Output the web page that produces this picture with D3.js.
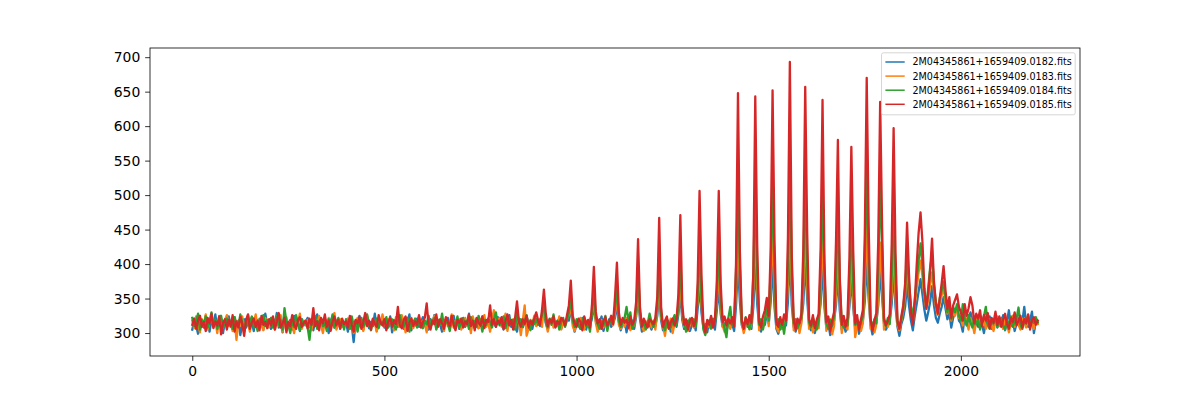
<!DOCTYPE html>
<html>
<head>
<meta charset="utf-8">
<script src="https://cdn.jsdelivr.net/npm/d3@7"></script>
<style>
  body { margin: 0; background: #fff; }
  text { font-family: "DejaVu Sans", sans-serif; }
</style>
</head>
<body>
<div id="chart"></div>
<script>
// flux every 5 pixels (index 0..2200)
const sampleStep = 5

const blueVals = [
  305,318,311,299,322,314,308,325,316,302,319,310,327,306,315,321,300,317,312,324,
  309,315,323,304,318,297,313,320,308,326,311,317,303,322,314,309,319,305,328,313,
  318,306,321,312,329,308,316,301,323,314,310,319,305,325,312,317,303,320,311,316,
  322,309,315,304,319,327,311,318,306,321,313,300,317,324,308,315,320,307,318,312,
  316,302,321,311,287,317,309,325,313,305,319,322,307,316,310,328,303,318,314,320,
  308,317,312,324,301,319,315,309,322,313,306,320,316,327,304,318,311,321,309,315,
  323,310,316,305,320,313,326,308,317,312,302,319,314,322,307,316,325,311,318,306,
  317,322,309,315,328,304,319,312,321,307,316,324,310,318,313,306,320,315,309,323,
  311,317,305,320,314,326,309,318,312,302,321,315,308,319,324,311,316,306,322,313,
  318,310,322,332,314,305,319,312,323,309,316,320,306,315,311,321,318,335,316,302,
  313,319,308,322,311,305,317,312,321,339,318,307,315,324,303,316,312,320,309,314,
  322,340,316,304,313,319,301,315,310,318,306,324,349,320,302,314,309,317,312,305,
  316,310,325,357,318,304,313,308,317,302,314,320,309,327,358,319,306,312,318,303,
  311,316,304,335,366,330,307,313,301,318,310,316,305,333,366,328,309,314,302,317,
  308,313,303,340,402,345,311,304,316,309,318,306,338,400,342,310,302,317,312,328,
  314,344,403,338,306,299,315,308,317,311,345,413,340,309,302,314,306,318,343,404,
  350,311,304,316,300,312,319,342,400,337,308,315,297,311,318,340,385,332,305,314,
  302,313,338,382,336,307,315,299,312,318,345,405,350,312,298,309,316,340,390,352,
  314,305,311,318,342,390,338,309,296,313,322,338,372,340,318,304,325,342,360,378,
  356,334,318,330,345,368,340,322,315,328,338,352,336,320,330,308,322,330,336,318,
  314,302,325,312,319,330,318,305,316,309,322,313,300,317,311,324,306,315,320,308,
  318,311,326,304,316,333,310,319,303,314,321,308,317,338,312,309,318,331,300,316,
  314
]

const orangeVals = [
  318,307,324,313,301,320,311,327,305,316,322,309,318,300,325,314,308,319,326,310,
  315,303,321,290,317,311,324,306,319,313,302,320,315,327,309,318,312,304,322,316,
  308,322,314,305,319,311,326,302,317,323,309,316,312,300,320,315,328,306,318,311,
  319,313,304,321,316,309,325,311,300,318,314,322,307,317,329,305,313,320,309,316,
  312,321,306,317,300,314,322,310,319,303,316,325,311,308,320,315,302,318,313,327,
  315,306,320,312,318,304,323,313,309,326,316,301,319,311,322,307,317,314,324,310,
  318,313,301,321,309,316,325,306,319,312,317,303,322,310,315,327,308,318,313,320,
  305,316,322,311,318,300,324,313,317,307,320,314,326,309,316,302,321,333,312,318,
  322,309,315,328,303,317,312,320,307,335,315,297,318,340,296,306,319,313,325,310,
  313,320,309,337,318,302,314,321,308,316,311,324,305,317,312,320,326,342,310,303,
  316,309,322,312,305,318,311,320,327,350,315,302,313,319,308,321,306,315,322,311,
  330,353,312,306,318,309,322,313,304,316,311,329,366,325,310,303,317,312,320,308,
  318,305,333,378,322,311,296,316,310,321,300,314,317,335,380,326,309,315,303,312,
  317,308,322,345,394,340,312,305,316,309,306,314,318,343,394,338,311,302,319,313,
  306,318,310,365,450,370,314,300,311,319,305,313,362,448,368,304,315,309,321,336,
  310,368,452,362,309,302,316,306,313,320,372,468,365,304,311,318,300,314,366,455,
  372,306,315,301,312,318,307,362,447,358,303,312,320,298,310,356,424,350,300,313,
  311,305,352,420,348,294,310,316,303,314,365,460,368,306,315,301,312,352,431,372,
  305,316,309,320,358,430,352,312,304,318,332,355,395,362,336,315,340,365,388,405,
  382,352,335,348,370,388,360,338,326,342,355,365,345,328,340,318,332,325,338,322,
  320,311,328,316,305,322,314,300,318,325,309,316,321,306,314,320,312,303,317,324,
  310,318,306,322,313,301,316,325,309,319,312,305,321,315,308,324,311,317,306,320,
  313
]

const greenVals = [
  322,310,317,328,305,319,313,324,308,316,330,311,320,306,318,325,309,314,321,312,
  318,306,323,314,309,327,316,302,320,311,317,324,308,315,303,321,313,326,310,319,
  314,322,308,317,325,311,319,305,336,316,312,300,318,309,326,315,304,320,313,317,
  309,290,318,312,324,306,317,321,310,315,303,320,313,327,308,316,322,311,318,305,
  320,313,306,324,311,318,302,316,322,309,315,327,312,304,319,314,321,307,317,312,
  316,323,308,314,320,311,305,318,326,313,309,317,322,302,316,312,321,308,319,314,
  307,318,313,325,310,316,322,305,319,312,328,309,317,314,303,320,316,311,324,308,
  315,321,310,318,306,323,313,317,309,325,314,302,319,312,321,316,308,320,330,313,
  318,311,324,307,316,322,312,319,305,332,314,320,309,317,326,311,304,318,313,321,
  312,318,326,345,316,308,321,313,327,310,318,305,316,322,309,319,330,352,318,309,
  320,312,306,318,323,310,315,302,330,365,322,313,306,317,311,325,303,318,314,320,
  335,370,318,309,316,322,338,318,330,306,315,335,392,330,312,318,305,314,328,316,
  309,317,340,410,326,312,304,320,315,308,318,326,311,342,413,330,316,302,314,321,
  313,320,309,355,435,350,305,297,312,318,307,321,314,352,434,348,318,307,294,322,
  338,311,318,390,520,395,316,309,323,312,306,318,385,518,392,312,320,305,318,340,
  318,392,525,388,312,320,305,317,299,323,400,550,390,314,320,307,316,322,395,528,
  402,316,308,322,313,305,318,390,515,385,314,306,319,311,324,380,480,372,315,308,
  318,311,375,474,368,312,319,306,316,324,405,545,410,318,309,320,314,395,518,420,
  318,310,322,313,385,492,380,316,308,320,336,365,415,372,340,322,348,378,405,430,
  398,360,338,365,395,412,370,345,332,350,362,375,352,330,345,320,338,330,342,325,
  318,342,320,311,326,315,308,322,313,319,305,317,324,338,312,306,319,314,323,309,
  316,322,311,305,318,313,324,309,317,321,337,312,306,319,314,326,308,320,315,323,
  316
]

const redVals = [
  312,321,306,318,325,309,316,303,322,314,328,307,317,311,324,298,315,320,305,319,
  310,326,302,317,308,323,313,296,319,327,306,315,321,309,318,304,325,312,316,307,
  320,311,324,305,317,329,308,314,322,301,316,310,326,313,306,319,323,309,315,318,
  307,321,312,336,310,317,304,322,314,327,309,318,303,316,324,311,319,306,321,313,
  317,308,325,312,302,319,314,323,306,316,329,310,318,305,321,313,309,326,315,311,
  320,304,316,322,309,318,313,338,311,307,319,324,303,315,321,310,317,312,326,308,
  316,322,343,311,305,318,313,327,309,320,314,306,323,317,310,325,312,304,319,315,
  321,308,317,313,326,310,318,304,322,315,311,324,307,319,316,340,312,320,309,318,
  314,323,306,317,327,311,319,305,322,346,316,309,320,313,325,308,318,312,321,330,
  318,312,333,363,328,310,320,315,324,308,317,313,322,319,311,326,340,376,325,314,
  309,321,316,304,324,312,319,308,340,396,331,314,320,306,318,323,311,316,325,313,
  352,402,330,312,322,315,319,307,324,312,318,345,436,338,309,321,314,308,320,317,
  313,322,352,467,338,309,318,324,306,316,321,311,319,356,471,342,312,320,305,317,
  322,310,318,372,506,385,314,301,319,312,325,308,320,376,506,372,316,324,311,321,
  314,323,309,402,648,418,318,306,322,313,326,315,388,643,428,317,308,324,333,351,
  325,418,652,436,316,309,323,312,327,318,438,693,412,319,305,321,314,328,420,657,
  448,320,311,326,307,319,328,420,638,405,316,324,302,318,330,430,580,380,312,325,
  309,322,408,570,418,314,326,305,320,333,442,670,458,321,303,318,329,432,635,455,
  322,311,318,327,428,597,415,318,306,324,340,372,460,385,330,312,345,398,445,475,
  432,365,335,358,390,437,375,342,328,350,372,397,362,335,352,322,340,348,356,338,
  330,318,342,325,336,352,340,314,328,321,333,310,326,318,329,307,322,315,331,312,
  324,309,319,328,313,306,322,316,330,311,318,325,308,320,314,327,305,319,323,312,
  318
]

const seriesNames = [
  "2M04345861+1659409.0182.fits",
  "2M04345861+1659409.0183.fits",
  "2M04345861+1659409.0184.fits",
  "2M04345861+1659409.0185.fits"
]
const seriesColors = ["#1f77b4", "#ff7f0e", "#2ca02c", "#d62728"]
const xTicks = [0, 500, 1000, 1500, 2000]
const yTicks = [300, 350, 400, 450, 500, 550, 600, 650, 700]

const width = 1200, height = 400
const plot = { left: 150, right: 1080, top: 48, bottom: 356 }
const tickLen = 4.86, tickPad = 4.86

const allSeries = [blueVals, orangeVals, greenVals, redVals]

// matplotlib style 5% margins around the data
const xMax = (redVals.length - 1) * sampleStep
const xPad = xMax * 0.05
const yMin = d3.min(allSeries, s => d3.min(s)), yMax = d3.max(allSeries, s => d3.max(s))
const yPad = (yMax - yMin) * 0.05

const x = d3.scaleLinear().domain([-xPad, xMax + xPad]).range([plot.left, plot.right])
const y = d3.scaleLinear().domain([yMin - yPad, yMax + yPad]).range([plot.bottom, plot.top])

const svg = d3.select("#chart").append("svg")
  .attr("width", width)
  .attr("height", height)
  .style("display", "block")

svg.append("rect").attr("width", width).attr("height", height).attr("fill", "#fff")

svg.append("clipPath").attr("id", "clip")
  .append("rect")
  .attr("x", plot.left).attr("y", plot.top)
  .attr("width", plot.right - plot.left).attr("height", plot.bottom - plot.top)

const line = d3.line()
  .x((d, i) => x(i * sampleStep))
  .y(d => y(d))

// the original has ~2.6 samples per pixel, so the band looks solid; a wider
// stroke stands in for that density
svg.append("g").attr("clip-path", "url(#clip)")
  .selectAll("path")
  .data(allSeries)
  .enter()
  .append("path")
  .attr("d", d => line(d))
  .attr("fill", "none")
  .attr("stroke", (d, i) => seriesColors[i])
  .attr("stroke-width", 2.3)
  .attr("stroke-linejoin", "round")
  .attr("stroke-linecap", "square")

// axes
const xAxis = d3.axisBottom(x).tickValues(xTicks).tickSize(tickLen).tickPadding(tickPad).tickFormat(d3.format("d"))
const yAxis = d3.axisLeft(y).tickValues(yTicks).tickSize(tickLen).tickPadding(tickPad).tickFormat(d3.format("d"))

const gx = svg.append("g").attr("transform", "translate(0," + plot.bottom + ")").call(xAxis)
const gy = svg.append("g").attr("transform", "translate(" + plot.left + ",0)").call(yAxis)

;[gx, gy].forEach(g => {
  g.select(".domain").remove()
  g.selectAll(".tick line").attr("stroke", "#000").attr("stroke-width", 0.8)
  g.selectAll(".tick text")
    .attr("fill", "#000")
    .style("font-size", "13.9px")
    .style("font-family", "'DejaVu Sans', sans-serif")
})

svg.append("rect")
  .attr("x", plot.left).attr("y", plot.top)
  .attr("width", plot.right - plot.left).attr("height", plot.bottom - plot.top)
  .attr("fill", "none")
  .attr("stroke", "#000")
  .attr("stroke-width", 0.8)

// legend, upper right
const legendFont = 9.6
const legend = svg.append("g").attr("class", "legend")
const boxLeft = 881.5, boxTop = 52.8, boxRight = 1075.2, rowGap = 14.1

legend.append("rect")
  .attr("x", boxLeft).attr("y", boxTop)
  .attr("width", boxRight - boxLeft).attr("height", 62)
  .attr("rx", 2).attr("ry", 2)
  .attr("fill", "#fff").attr("fill-opacity", 0.8)
  .attr("stroke", "#cccccc").attr("stroke-width", 0.8)

const rows = legend.selectAll("g.row")
  .data(seriesNames)
  .enter()
  .append("g")
  .attr("class", "row")
  .attr("transform", (d, i) => "translate(0," + (boxTop + 9.2 + i * rowGap) + ")")

rows.append("line")
  .attr("x1", boxLeft + 3.9).attr("x2", boxLeft + 3.9 + 19.3)
  .attr("stroke", (d, i) => seriesColors[i])
  .attr("stroke-width", 1.5)

rows.append("text")
  .attr("x", boxLeft + 3.9 + 19.3 + 7.7)
  .attr("dy", "0.36em")
  .style("font-size", legendFont + "px")
  .attr("fill", "#000")
  .text(d => d)
</script>
</body>
</html>
